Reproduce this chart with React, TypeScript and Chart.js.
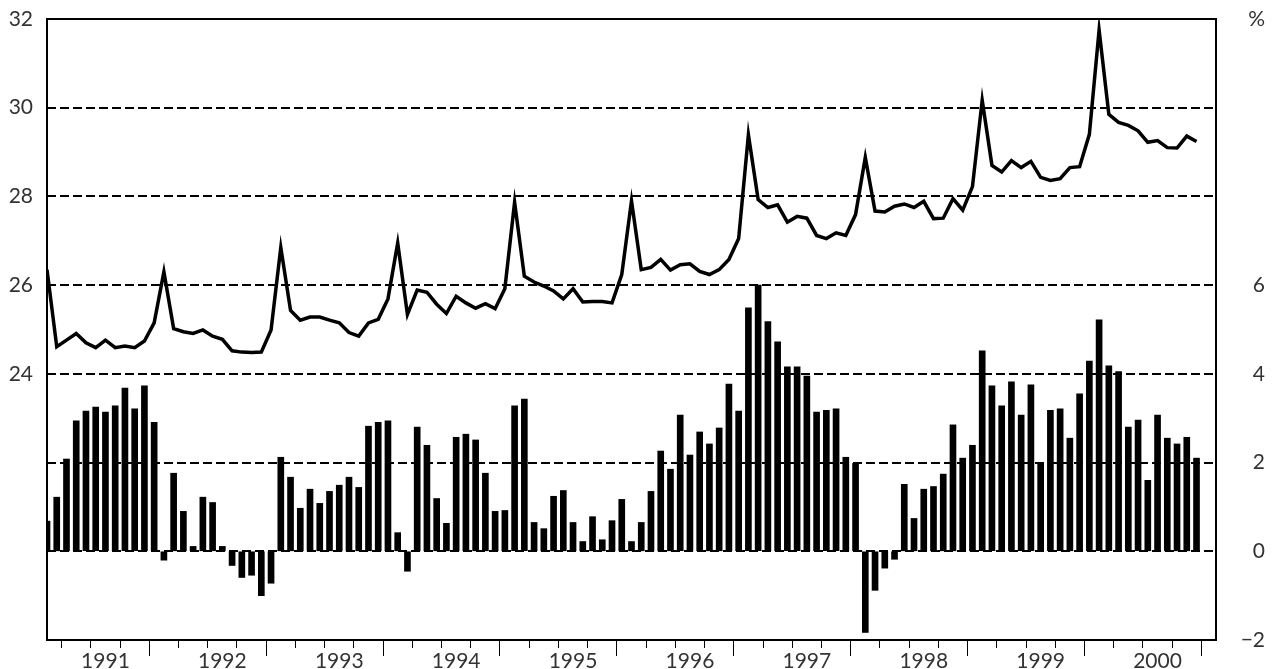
import React, { useEffect, useRef } from 'react';
import { Chart, registerables } from 'chart.js';

Chart.register(...registerables);

// Year labels for the x axis (monthly data, Jan 1991 .. Nov 2000)
const YEARS = ['1991', '1992', '1993', '1994', '1995', '1996', '1997', '1998', '1999', '2000'];

// Line series (left axis)
const LINE_VALUES = [
  26.35, 24.61, 24.76, 24.91, 24.70, 24.59, 24.76, 24.59, 24.63, 24.59, 24.74, 25.15,
  26.30, 25.02, 24.95, 24.91, 24.99, 24.85, 24.78, 24.52, 24.49, 24.48, 24.49, 24.99,
  26.85, 25.43, 25.21, 25.28, 25.28, 25.21, 25.15, 24.93, 24.85, 25.15, 25.23, 25.69,
  26.95, 25.34, 25.89, 25.84, 25.57, 25.36, 25.75, 25.60, 25.48, 25.58, 25.47, 25.92,
  27.87, 26.20, 26.07, 25.98, 25.87, 25.69, 25.92, 25.62, 25.63, 25.63, 25.60, 26.24,
  27.90, 26.35, 26.40, 26.58, 26.34, 26.46, 26.48, 26.31, 26.24, 26.35, 26.58, 27.05,
  29.39, 27.93, 27.75, 27.81, 27.42, 27.55, 27.51, 27.12, 27.05, 27.18, 27.12, 27.59,
  28.88, 27.67, 27.65, 27.78, 27.83, 27.75, 27.89, 27.50, 27.51, 27.95, 27.69, 28.22,
  30.17, 28.70, 28.55, 28.81, 28.65, 28.79, 28.43, 28.36, 28.40, 28.65, 28.67, 29.40,
  31.75, 29.85, 29.67, 29.60, 29.48, 29.22, 29.26, 29.10, 29.09, 29.36, 29.24,
];

// Bar series (right axis, %)
const BAR_VALUES = [
  0.68, 1.22, 2.08, 2.94, 3.16, 3.25, 3.14, 3.28, 3.68, 3.21, 3.73, 2.91,
  -0.20, 1.76, 0.90, 0.11, 1.22, 1.10, 0.11, -0.32, -0.59, -0.54, -1.00, -0.72,
  2.12, 1.67, 0.97, 1.40, 1.08, 1.35, 1.49, 1.67, 1.44, 2.82, 2.91, 2.94,
  0.42, -0.45, 2.80, 2.39, 1.19, 0.63, 2.57, 2.64, 2.51, 1.76, 0.90, 0.92,
  3.28, 3.43, 0.65, 0.51, 1.24, 1.37, 0.65, 0.22, 0.78, 0.26, 0.69, 1.17,
  0.22, 0.65, 1.35, 2.26, 1.85, 3.07, 2.17, 2.69, 2.42, 2.78, 3.77, 3.16,
  5.49, 6.00, 5.18, 4.72, 4.16, 4.16, 3.95, 3.14, 3.18, 3.21, 2.12, 1.98,
  -1.83, -0.88, -0.38, -0.18, 1.51, 0.74, 1.40, 1.46, 1.74, 2.85, 2.10, 2.39,
  4.52, 3.73, 3.28, 3.82, 3.07, 3.75, 1.98, 3.18, 3.21, 2.55, 3.55, 4.29,
  5.22, 4.18, 4.05, 2.80, 2.96, 1.60, 3.07, 2.55, 2.42, 2.57, 2.10,
];

const LEFT_LABELS = [24, 26, 28, 30, 32];
const RIGHT_LABELS = [-2, 0, 2, 4, 6];
const GRID_VALUES = [20, 22, 24, 26, 28, 30];

const FONT = { family: 'Lato, "Open Sans", sans-serif', size: 21 };
const TEXT_COLOR = '#333';

const framePlugin = {
  id: 'frame',
  afterDatasetsDraw(chart: any) {
    const { ctx, chartArea: a } = chart;
    ctx.save();
    ctx.strokeStyle = '#000';
    ctx.lineWidth = 2;
    ctx.strokeRect(a.left, a.top, a.right - a.left, a.bottom - a.top);
    ctx.restore();
  },
};

const fitY = (width: number) => (scale: any) => {
  scale.width = width;
  scale.paddingTop = 0;
  scale.paddingBottom = 0;
};

export default function App() {
  const ref = useRef<HTMLCanvasElement | null>(null);

  useEffect(() => {
    if (!ref.current) return;
    const chart = new Chart(ref.current, {
      type: 'bar',
      data: {
        datasets: [
          {
            type: 'line',
            data: LINE_VALUES.map((v, i) => ({ x: i, y: v })),
            yAxisID: 'yL',
            borderColor: '#000',
            borderWidth: 3.5,
            pointRadius: 0,
            tension: 0,
            fill: false,
            borderJoinStyle: 'miter',
          } as any,
          {
            type: 'bar',
            data: BAR_VALUES.map((v, i) => ({ x: i, y: v })),
            yAxisID: 'yR',
            backgroundColor: '#000',
            borderWidth: 0,
            barThickness: 6,
          } as any,
        ],
      },
      options: {
        responsive: false,
        animation: false,
        devicePixelRatio: 1,
        layout: { padding: { top: 19, right: 15, left: 0, bottom: 0 } },
        plugins: { legend: { display: false }, tooltip: { enabled: false } },
        scales: {
          x: {
            type: 'linear',
            min: 0,
            max: 120,
            offset: false,
            border: { display: false },
            grid: {
              display: true,
              drawOnChartArea: false,
              drawTicks: true,
              tickLength: 16,
              tickColor: '#000',
              tickWidth: 1,
              tickBorderDash: (ctx: any) => (ctx.tick && ctx.tick.value % 12 === 0 ? [] : [8, 40]),
            } as any,
            ticks: {
              stepSize: 3,
              autoSkip: false,
              maxRotation: 0,
              minRotation: 0,
              padding: -7,
              color: TEXT_COLOR,
              font: FONT,
              callback: (value: any) => {
                const v = Number(value);
                return v % 12 === 6 ? YEARS[(v - 6) / 12] : '';
              },
            },
            afterFit: (scale: any) => {
              scale.height = 29;
              scale.paddingLeft = 0;
              scale.paddingRight = 0;
            },
          },
          yL: {
            type: 'linear',
            position: 'left',
            min: 18,
            max: 32,
            border: { display: false, dash: [9, 4] },
            grid: {
              drawTicks: false,
              lineWidth: 2,
              borderDash: [9, 4],
              color: (ctx: any) => (ctx.tick && GRID_VALUES.includes(ctx.tick.value) ? '#000' : 'rgba(0,0,0,0)'),
            } as any,
            ticks: {
              stepSize: 2,
              padding: 14,
              color: TEXT_COLOR,
              font: FONT,
              callback: (value: any) => (LEFT_LABELS.includes(Number(value)) ? String(value) : ''),
            },
            afterFit: fitY(47),
          },
          yR: {
            type: 'linear',
            position: 'right',
            min: -2,
            max: 12,
            border: { display: false },
            grid: { drawOnChartArea: false, drawTicks: false },
            ticks: {
              stepSize: 2,
              crossAlign: 'far',
              color: TEXT_COLOR,
              font: FONT,
              callback: (value: any) => {
                const v = Number(value);
                if (v === 12) return '%';
                if (!RIGHT_LABELS.includes(v)) return '';
                return v < 0 ? '\u2212' + Math.abs(v) : String(v);
              },
            },
            afterFit: fitY(49),
          },
        },
      } as any,
      plugins: [framePlugin],
    });
    return () => chart.destroy();
  }, []);

  return (
    <div style={{ position: 'absolute', left: 0, top: 0, width: 1280, height: 669, background: '#fff' }}>
      <canvas ref={ref} width={1280} height={669} style={{ width: 1280, height: 669, display: 'block' }} />
    </div>
  );
}
